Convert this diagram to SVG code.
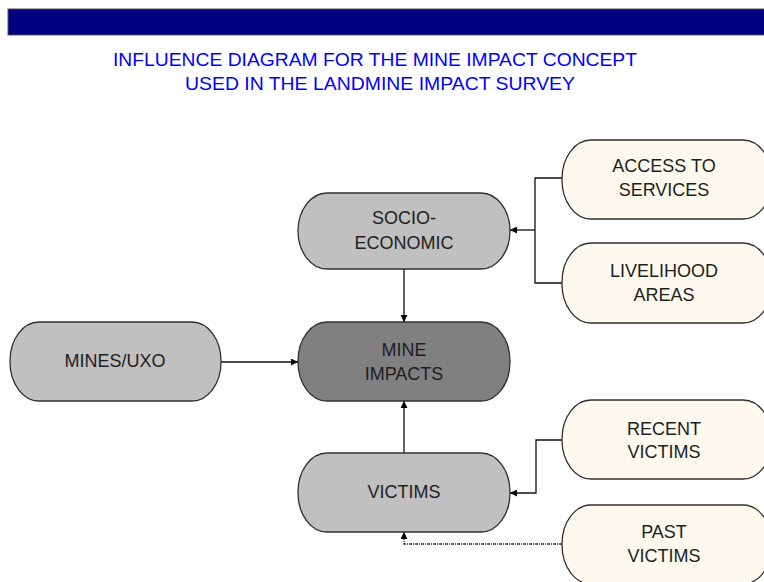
<svg xmlns="http://www.w3.org/2000/svg" width="764" height="582" viewBox="0 0 764 582">
<style>
.node{stroke:#303030;stroke-width:1.3}
.grey{fill:#c0c0c0}
.dark{fill:#808080}
.cream{fill:#fdf9ee}
.lbl{font-family:"Liberation Sans",Arial,sans-serif;font-size:18px;fill:#1e1e1e;text-anchor:middle}
.title{font-family:"Liberation Sans",Arial,sans-serif;font-size:18px;fill:#0000ff;text-anchor:middle}
.conn{fill:none;stroke:#101010;stroke-width:1.3}
.dot{stroke-dasharray:3 1 1 1;stroke:#303030}
</style>
<defs>
<marker id="arr" viewBox="0 0 10 10" refX="10" refY="5" markerWidth="7" markerHeight="7" markerUnits="userSpaceOnUse" orient="auto">
<path d="M0,0 L10,5 L0,10 z" fill="#000"/>
</marker>
</defs>
<rect x="8" y="9" width="760" height="26" fill="#000080" stroke="#555" stroke-width="1"/>
<text class="title" x="375" y="66" textLength="524" lengthAdjust="spacingAndGlyphs">INFLUENCE DIAGRAM FOR THE MINE IMPACT CONCEPT</text>
<text class="title" x="380" y="90" textLength="390" lengthAdjust="spacingAndGlyphs">USED IN THE LANDMINE IMPACT SURVEY</text>
<g id="connectors">
<path class="conn" d="M404,269 V322" marker-end="url(#arr)"/>
<path class="conn" d="M221,362 H298" marker-end="url(#arr)"/>
<path class="conn" d="M404,453 V401" marker-end="url(#arr)"/>
<path class="conn" d="M562,178 H535 V283 H562"/>
<path class="conn" d="M535,230 H510" marker-end="url(#arr)"/>
<path class="conn" d="M562,440 H536 V493 H510" marker-end="url(#arr)"/>
<path class="conn dot" d="M562,544 H404 V532" marker-end="url(#arr)"/>
</g>
<g id="socio">
<rect class="node grey" x="298" y="193" width="212" height="76" rx="29" ry="38"/>
<text class="lbl" x="404" y="224">SOCIO-</text>
<text class="lbl" x="404" y="249">ECONOMIC</text>
</g>
<g id="mineimpacts">
<rect class="node dark" x="298" y="322" width="212" height="79" rx="29" ry="39"/>
<text class="lbl" x="404" y="356">MINE</text>
<text class="lbl" x="404" y="380">IMPACTS</text>
</g>
<g id="victims">
<rect class="node grey" x="298" y="453" width="212" height="79" rx="29" ry="39"/>
<text class="lbl" x="404" y="498">VICTIMS</text>
</g>
<g id="mines">
<rect class="node grey" x="10" y="322" width="211" height="79" rx="29" ry="39"/>
<text class="lbl" x="115" y="367">MINES/UXO</text>
</g>
<g id="access">
<rect class="node cream" x="562" y="140" width="210" height="79" rx="29" ry="39"/>
<text class="lbl" x="664" y="172">ACCESS TO</text>
<text class="lbl" x="664" y="196">SERVICES</text>
</g>
<g id="livelihood">
<rect class="node cream" x="562" y="243" width="210" height="80" rx="29" ry="39"/>
<text class="lbl" x="664" y="277">LIVELIHOOD</text>
<text class="lbl" x="664" y="301">AREAS</text>
</g>
<g id="recent">
<rect class="node cream" x="562" y="400" width="210" height="79" rx="29" ry="39"/>
<text class="lbl" x="664" y="435">RECENT</text>
<text class="lbl" x="664" y="458">VICTIMS</text>
</g>
<g id="past">
<rect class="node cream" x="562" y="505" width="210" height="79" rx="29" ry="39"/>
<text class="lbl" x="664" y="538">PAST</text>
<text class="lbl" x="664" y="562">VICTIMS</text>
</g>
</svg>
